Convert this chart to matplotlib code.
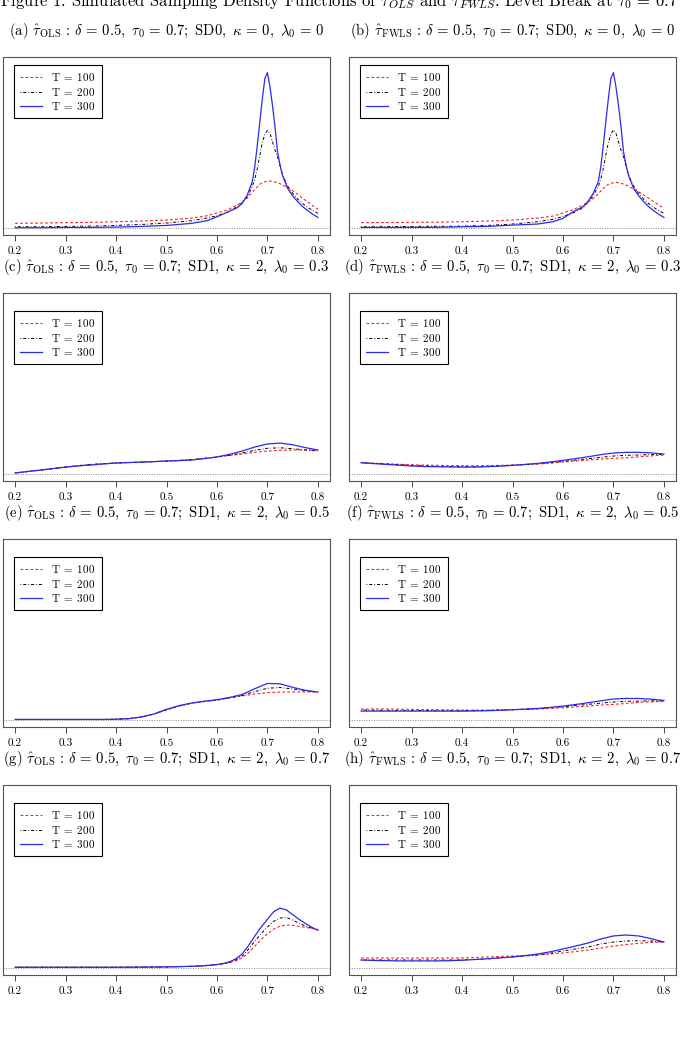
import matplotlib
matplotlib.use("Agg")
import matplotlib.pyplot as plt
from matplotlib.lines import Line2D

plt.rcParams['font.family'] = 'serif'
plt.rcParams['font.serif'] = ['cmr10', 'DejaVu Serif']
plt.rcParams['mathtext.fontset'] = 'cm'
plt.rcParams['axes.formatter.use_mathtext'] = True

# ---- data (density values) ----
# panels (a), (b): fine grid around the peak at 0.7
x_ab = [0.20, 0.25, 0.30, 0.35, 0.40, 0.45, 0.50, 0.55, 0.58, 0.60, 0.62, 0.64, 0.65,
        0.66, 0.67, 0.675, 0.68, 0.685, 0.69, 0.695, 0.70, 0.705, 0.71, 0.715, 0.72,
        0.725, 0.73, 0.74, 0.75, 0.76, 0.77, 0.78, 0.79, 0.80]

a_t100 = [0.46, 0.49, 0.52, 0.55, 0.61, 0.67, 0.76, 0.94, 1.15, 1.40, 1.67, 2.13, 2.40,
          2.79, 3.28, 3.55, 3.80, 4.01, 4.16, 4.25, 4.31, 4.31, 4.28, 4.22, 4.16,
          4.07, 3.95, 3.70, 3.43, 3.10, 2.73, 2.40, 2.06, 1.76]
a_t200 = [0.15, 0.15, 0.18, 0.21, 0.27, 0.36, 0.49, 0.70, 0.94, 1.15, 1.46, 1.97, 2.34,
          2.88, 3.80, 4.49, 5.46, 6.68, 7.83, 8.59, 8.93, 8.65, 7.90, 7.13, 6.53,
          5.68, 4.86, 3.86, 3.19, 2.67, 2.25, 1.91, 1.61, 1.37]
a_t300 = [0.06, 0.06, 0.09, 0.09, 0.12, 0.18, 0.27, 0.46, 0.70, 1.06, 1.46, 1.88, 2.28,
          3.04, 4.25, 5.62, 7.59, 9.72, 11.84, 13.66, 14.18, 12.90, 11.20, 9.26, 6.98,
          5.77, 4.80, 3.64, 2.97, 2.43, 1.97, 1.61, 1.28, 1.00]

b_t100 = [0.52, 0.54, 0.55, 0.57, 0.61, 0.67, 0.76, 0.94, 1.12, 1.40, 1.70, 2.13, 2.40,
          2.73, 3.16, 3.40, 3.65, 3.87, 4.01, 4.10, 4.16, 4.19, 4.16, 4.10, 4.04,
          3.95, 3.83, 3.58, 3.34, 3.04, 2.73, 2.43, 2.13, 1.82]
b_t200 = [0.15, 0.16, 0.18, 0.19, 0.21, 0.27, 0.40, 0.61, 0.82, 1.09, 1.40, 1.88, 2.40,
          2.97, 3.83, 4.49, 5.46, 6.68, 7.83, 8.59, 8.96, 8.65, 7.90, 7.13, 6.53,
          5.68, 4.86, 3.86, 3.19, 2.67, 2.25, 1.91, 1.61, 1.37]
b_t300 = [0.09, 0.09, 0.09, 0.10, 0.15, 0.18, 0.30, 0.40, 0.61, 0.91, 1.52, 1.97, 2.49,
          3.19, 4.25, 5.62, 7.59, 9.72, 11.84, 13.66, 14.18, 12.90, 11.20, 9.26, 6.98,
          5.77, 4.80, 3.64, 2.97, 2.43, 1.97, 1.61, 1.28, 1.00]

# panels (c)-(f), (h): grid in steps of 0.025
x_ch = [0.200, 0.225, 0.250, 0.275, 0.300, 0.325, 0.350, 0.375, 0.400, 0.425, 0.450,
        0.475, 0.500, 0.525, 0.550, 0.575, 0.600, 0.625, 0.650, 0.675, 0.700, 0.725,
        0.750, 0.775, 0.800]

c_t100 = [0.09, 0.22, 0.34, 0.47, 0.60, 0.70, 0.78, 0.87, 0.95, 0.99, 1.03, 1.07, 1.12,
          1.16, 1.21, 1.33, 1.47, 1.60, 1.72, 1.88, 1.98, 2.05, 2.07, 2.07, 2.07]
c_t200 = [0.09, 0.22, 0.34, 0.47, 0.60, 0.73, 0.84, 0.90, 0.95, 0.99, 1.03, 1.07, 1.12,
          1.18, 1.25, 1.36, 1.47, 1.62, 1.81, 2.05, 2.22, 2.26, 2.18, 2.08, 1.98]
c_t300 = [0.09, 0.22, 0.34, 0.47, 0.60, 0.70, 0.78, 0.87, 0.95, 0.99, 1.03, 1.07, 1.12,
          1.16, 1.21, 1.33, 1.47, 1.70, 1.98, 2.33, 2.59, 2.67, 2.52, 2.28, 2.07]

d_t100 = [0.98, 0.93, 0.89, 0.84, 0.80, 0.77, 0.75, 0.73, 0.72, 0.71, 0.72, 0.74, 0.78,
          0.82, 0.86, 0.94, 1.03, 1.12, 1.21, 1.29, 1.35, 1.40, 1.48, 1.56, 1.64]
d_t200 = [0.98, 0.92, 0.86, 0.80, 0.75, 0.70, 0.66, 0.64, 0.63, 0.63, 0.66, 0.70, 0.75,
          0.81, 0.89, 0.98, 1.09, 1.20, 1.32, 1.44, 1.55, 1.61, 1.64, 1.67, 1.70]
d_t300 = [0.98, 0.90, 0.83, 0.76, 0.69, 0.65, 0.63, 0.61, 0.60, 0.60, 0.63, 0.68, 0.75,
          0.83, 0.92, 1.04, 1.18, 1.33, 1.49, 1.67, 1.81, 1.87, 1.87, 1.82, 1.72]

e_t100 = [0.05, 0.05, 0.05, 0.05, 0.05, 0.05, 0.05, 0.05, 0.07, 0.12, 0.26, 0.52, 0.86,
          1.20, 1.45, 1.60, 1.72, 1.90, 2.07, 2.24, 2.36, 2.41, 2.42, 2.42, 2.41]
e_t200 = [0.05, 0.05, 0.05, 0.05, 0.05, 0.05, 0.05, 0.05, 0.07, 0.12, 0.26, 0.52, 0.90,
          1.22, 1.46, 1.60, 1.72, 1.92, 2.12, 2.45, 2.74, 2.80, 2.68, 2.52, 2.41]
e_t300 = [0.05, 0.05, 0.05, 0.05, 0.05, 0.05, 0.05, 0.05, 0.07, 0.12, 0.26, 0.52, 0.92,
          1.24, 1.47, 1.62, 1.75, 1.95, 2.20, 2.70, 3.15, 3.12, 2.82, 2.56, 2.41]

f_t100 = [0.95, 0.95, 0.95, 0.94, 0.92, 0.90, 0.89, 0.88, 0.86, 0.86, 0.86, 0.87, 0.89,
          0.92, 0.95, 1.00, 1.06, 1.13, 1.20, 1.29, 1.35, 1.43, 1.52, 1.57, 1.61]
f_t200 = [0.86, 0.85, 0.83, 0.83, 0.83, 0.82, 0.80, 0.80, 0.80, 0.81, 0.83, 0.86, 0.89,
          0.93, 0.98, 1.06, 1.15, 1.25, 1.35, 1.46, 1.55, 1.61, 1.63, 1.66, 1.66]
f_t300 = [0.77, 0.77, 0.77, 0.77, 0.77, 0.77, 0.77, 0.77, 0.77, 0.78, 0.80, 0.84, 0.89,
          0.94, 1.00, 1.09, 1.20, 1.34, 1.49, 1.66, 1.81, 1.86, 1.86, 1.80, 1.69]

h_t100 = [0.85, 0.85, 0.85, 0.85, 0.85, 0.85, 0.85, 0.85, 0.85, 0.89, 0.94, 0.98, 1.02,
          1.06, 1.11, 1.19, 1.28, 1.40, 1.53, 1.70, 1.87, 2.00, 2.10, 2.18, 2.21]
h_t200 = [0.68, 0.68, 0.68, 0.68, 0.68, 0.68, 0.68, 0.68, 0.68, 0.72, 0.77, 0.85, 0.94,
          1.02, 1.11, 1.26, 1.45, 1.62, 1.79, 2.04, 2.21, 2.30, 2.32, 2.30, 2.21]
h_t300 = [0.68, 0.64, 0.62, 0.60, 0.60, 0.60, 0.60, 0.62, 0.66, 0.72, 0.79, 0.86, 0.94,
          1.05, 1.19, 1.38, 1.62, 1.87, 2.13, 2.47, 2.73, 2.81, 2.73, 2.50, 2.21]

# panel (g): finer steps over the hump
x_g = [0.20, 0.25, 0.30, 0.35, 0.40, 0.45, 0.50, 0.55, 0.575, 0.60, 0.6125, 0.625, 0.6375,
       0.65, 0.6625, 0.675, 0.6875, 0.70, 0.7125, 0.725, 0.7375, 0.75, 0.7625, 0.775,
       0.7875, 0.80]
g_t100 = [0.06, 0.06, 0.06, 0.06, 0.06, 0.07, 0.09, 0.14, 0.19, 0.29, 0.36, 0.45, 0.62,
          0.86, 1.30, 1.86, 2.42, 2.92, 3.32, 3.56, 3.66, 3.64, 3.56, 3.46, 3.37, 3.29]
g_t200 = [0.06, 0.06, 0.06, 0.06, 0.06, 0.07, 0.09, 0.14, 0.19, 0.29, 0.37, 0.48, 0.69,
          1.00, 1.60, 2.29, 2.93, 3.49, 3.98, 4.26, 4.30, 4.08, 3.82, 3.58, 3.40, 3.26]
g_t300 = [0.06, 0.06, 0.06, 0.06, 0.06, 0.07, 0.09, 0.14, 0.19, 0.29, 0.38, 0.52, 0.78,
          1.20, 1.90, 2.72, 3.48, 4.15, 4.80, 5.10, 4.95, 4.55, 4.15, 3.80, 3.48, 3.21]

panel_labels = ["(a)", "(b)", "(c)", "(d)", "(e)", "(f)", "(g)", "(h)"]
estimators = [r"\mathrm{OLS}", r"\mathrm{FWLS}"] * 4
noise = ["SD0", "SD0", "SD1", "SD1", "SD1", "SD1", "SD1", "SD1"]
kappa = ["0", "0", "2", "2", "2", "2", "2", "2"]
lambda0 = ["0", "0", "0.3", "0.3", "0.5", "0.5", "0.7", "0.7"]
x_ticks = [0.2, 0.3, 0.4, 0.5, 0.6, 0.7, 0.8]
legend_labels = [r"$\mathrm{T}\;=\;100$", r"$\mathrm{T}\;=\;200$", r"$\mathrm{T}\;=\;300$"]

panels = [
    (x_ab, a_t100, a_t200, a_t300),
    (x_ab, b_t100, b_t200, b_t300),
    (x_ch, c_t100, c_t200, c_t300),
    (x_ch, d_t100, d_t200, d_t300),
    (x_ch, e_t100, e_t200, e_t300),
    (x_ch, f_t100, f_t200, f_t300),
    (x_g, g_t100, g_t200, g_t300),
    (x_ch, h_t100, h_t200, h_t300),
]

# ---- layout (pixel boxes of the panels) ----
W, H = 683, 1061
cols = [(3, 330), (349, 676)]
rows = [(57, 235), (293, 481), (539, 727), (785, 975)]
legend_top = [8, 18, 18, 18]

styles = [
    dict(color='#ff2020', lw=0.8, ls=(0, (2.5, 2.0))),
    dict(color='black', lw=0.7, ls=(0, (0.8, 2.0, 3.2, 2.0))),
    dict(color='#2a2af0', lw=0.9, ls='-'),
]

fig = plt.figure(figsize=(W / 100, H / 100), dpi=100)

fig.text(0.0, 1 - 6 / H,
         r"Figure 1: Simulated Sampling Density Functions of $\hat{\tau}_{OLS}$ and "
         r"$\hat{\tau}_{FWLS}$: Level Break at $\tau_0\,=\,0.7$",
         fontsize=12, ha='left', va='baseline')

for i, (xs, s1, s2, s3) in enumerate(panels):
    r, c = divmod(i, 2)
    x0, x1 = cols[c]
    y0, y1 = rows[r]
    ax = fig.add_axes([x0 / W, 1 - y1 / H, (x1 - x0) / W, (y1 - y0) / H])
    for ys, st in zip((s1, s2, s3), styles):
        ax.plot(xs, ys, **st)
    ax.axhline(0, color='#888888', lw=0.7, ls=(0, (1, 1.5)))
    ax.set_xlim(0.176, 0.824)
    ax.set_ylim(-0.6, 15.6)
    ax.set_yticks([])
    ax.set_xticks(x_ticks)
    ax.set_xticklabels([f"{t:.1f}" for t in x_ticks])
    ax.tick_params(axis='x', length=4.5, width=0.7, labelsize=8, pad=3.5, color='#444444')
    for sp in ax.spines.values():
        sp.set_color('#555555')
        sp.set_linewidth(0.8)

    title = (panel_labels[i] + r" $\hat{\tau}_{" + estimators[i] + r"}\,:\,\delta\,=\,0.5,\ \tau_0\,=\,0.7;\ "
             r"\mathrm{" + noise[i] + r"},\ \kappa\,=\," + kappa[i] + r",\ \lambda_0\,=\," + lambda0[i] + "$")
    fig.text((x0 + x1) / 2 / W, 1 - (y0 - 22) / H, title, fontsize=10.6, ha='center', va='baseline')

    handles = [Line2D([], [], **st) for st in styles]
    bx = 11 / (x1 - x0)
    by = 1 - legend_top[r] / (y1 - y0)
    leg = ax.legend(handles, legend_labels, loc='upper left', bbox_to_anchor=(bx, by),
                    borderaxespad=0, fontsize=8, handlelength=2.0, handletextpad=0.8,
                    labelspacing=0.22, borderpad=0.55, fancybox=False, framealpha=1)
    leg.get_frame().set_edgecolor('black')
    leg.get_frame().set_linewidth(0.8)

fig.savefig("out.png", dpi=100)
